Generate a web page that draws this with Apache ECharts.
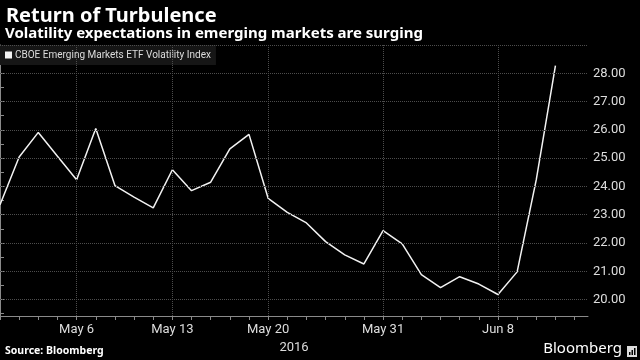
<!DOCTYPE html>
<html>
<head>
<meta charset="utf-8">
<script src="https://cdn.jsdelivr.net/npm/echarts@6/dist/echarts.min.js"></script>
<style>html,body{margin:0;padding:0;background:#000;}#c{width:640px;height:360px;}</style>
</head>
<body>
<div id="c"></div>
<script>
// Trading days (category labels) and index values
var dates = ['May 2','May 3','May 4','May 5','May 6','May 9','May 10','May 11','May 12','May 13',
  'May 16','May 17','May 18','May 19','May 20','May 23','May 24','May 25','May 26','May 27',
  'May 31','Jun 1','Jun 2','Jun 3','Jun 6','Jun 7','Jun 8','Jun 9','Jun 10','Jun 13'];
var vix = [23.35,25.04,25.91,25.07,24.24,26.05,24.03,23.62,23.24,24.59,
  23.85,24.15,25.33,25.84,23.58,23.08,22.71,22.05,21.58,21.26,
  22.44,21.97,20.88,20.42,20.81,20.55,20.18,20.98,24.24,28.27];
var xLabelIdx = [4, 9, 14, 20, 26];
var xTickIdx = [0,1,2,3,4,5,6,7,8,9,10,11,12,13,14,15,16,17,18,19,20,21,22,23,24,25,26,27,28,29,30];
var yLabels = [20, 21, 22, 23, 24, 25, 26, 27, 28];
var yTicks = [19.5,20,20.5,21,21.5,22,22.5,23,23.5,24,24.5,25,25.5,26,26.5,27,27.5,28,28.5,29];
var yGrid = [20, 21, 22, 23, 24, 25, 26, 27, 28, 29];
var seriesName = 'CBOE Emerging Markets ETF Volatility Index';

var chart = echarts.init(document.getElementById('c'), null, {renderer: 'canvas'});
var gridStyle = {type: 'dotted', color: '#4d4d4d', width: 1};
chart.setOption({
  backgroundColor: '#000',
  animation: false,
  title: [
    {text: 'Return of Turbulence', left: 1, top: 1,
     textStyle: {color: '#fff', fontSize: 20, fontWeight: 'bold', fontFamily: 'Noto Sans'}},
    {text: 'Volatility expectations in emerging markets are surging', left: 0, top: 21,
     textStyle: {color: '#fff', fontSize: 15, fontWeight: 'bold', fontFamily: 'Noto Sans'}}
  ],
  legend: {
    left: 0, top: 45, padding: [5, 5, 5, 5],
    backgroundColor: '#161616',
    icon: 'rect', itemWidth: 7, itemHeight: 7,
    textStyle: {color: '#ddd', fontSize: 10, fontFamily: 'Roboto', padding: [0, 0, 0, -2]},
    data: [seriesName]
  },
  grid: {left: 0, right: 52, top: 45, bottom: 44, containLabel: false, outerBoundsMode: 'none'},
  xAxis: {
    type: 'value', min: 0, max: 30.7,
    name: '2016', nameLocation: 'middle', nameGap: 23,
    nameTextStyle: {color: '#ddd', fontSize: 13, fontFamily: 'Roboto'},
    axisLine: {show: true, lineStyle: {color: '#8a8a8a'}},
    axisTick: {show: true, length: 4, customValues: xTickIdx, lineStyle: {color: '#8a8a8a'}},
    axisLabel: {customValues: xLabelIdx, color: '#ddd', fontSize: 13, fontFamily: 'Roboto', margin: 7,
      formatter: function (v) { return dates[Math.round(v)] || ''; }},
    splitLine: {show: false}
  },
  yAxis: {
    type: 'value', position: 'right', min: 19.42, max: 29,
    name: 'Percent', nameLocation: 'middle', nameGap: 45, nameRotate: -90,
    nameTextStyle: {color: '#ddd', fontSize: 14, fontFamily: 'Roboto'},
    axisLine: {show: true, lineStyle: {color: '#8a8a8a'}},
    axisTick: {show: true, length: 4, customValues: yTicks, lineStyle: {color: '#8a8a8a'}},
    axisLabel: {customValues: yLabels, color: '#ddd', fontSize: 13, fontFamily: 'Roboto', margin: 5,
      formatter: function (v) { return v.toFixed(2); }},
    splitLine: {show: false}
  },
  series: [{
    name: seriesName, type: 'line',
    data: vix.map(function (v, i) { return [i, v]; }),
    showSymbol: false, symbol: 'none',
    lineStyle: {color: '#f2f2f2', width: 1.5},
    itemStyle: {color: '#f2f2f2'},
    markLine: {
      silent: true, symbol: 'none', label: {show: false},
      lineStyle: gridStyle, animation: false,
      data: yGrid.map(function (v) { return {yAxis: v}; })
        .concat(xLabelIdx.map(function (i) { return {xAxis: i}; }))
    }
  }],
  graphic: [
    {type: 'text', left: 5, top: 346,
     style: {text: 'Source: Bloomberg', fill: '#fff', font: 'bold 10.5px "Noto Sans"'}},
    {type: 'text', right: 18, top: 341,
     style: {text: 'Bloomberg', fill: '#fff', font: '15px "Noto Sans"'}},
    {type: 'group', right: 3, top: 346, children: [
      {type: 'rect', shape: {x: 0, y: 0, width: 10, height: 11}, style: {fill: '#ddd'}},
      {type: 'rect', shape: {x: 2, y: 6, width: 1.5, height: 3}, style: {fill: '#000'}},
      {type: 'rect', shape: {x: 4.5, y: 4, width: 1.5, height: 5}, style: {fill: '#000'}},
      {type: 'rect', shape: {x: 7, y: 2, width: 1.5, height: 7}, style: {fill: '#000'}}
    ]}
  ]
});
</script>
</body>
</html>
